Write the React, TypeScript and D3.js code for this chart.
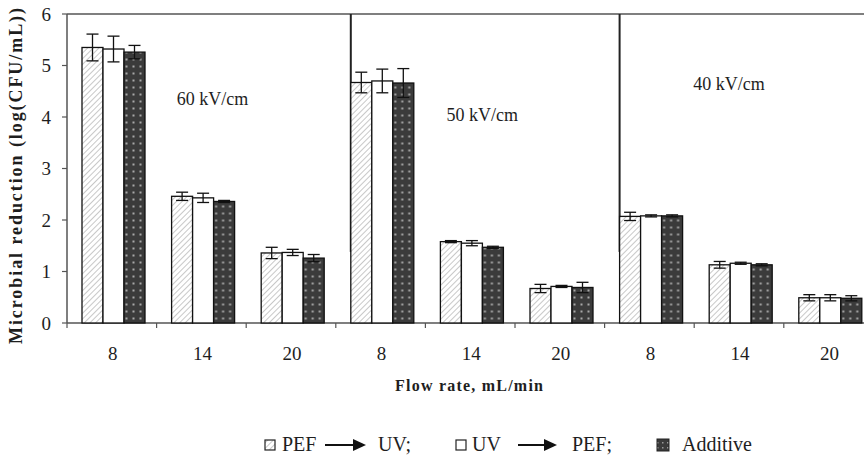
import React from 'react';
import * as d3 from 'd3';

// flow rates per group (three field strengths x three flow rates)
const flowRates = ['8', '14', '20', '8', '14', '20', '8', '14', '20'];
const fieldLabels = ['60 kV/cm', '50 kV/cm', '40 kV/cm'];
const fieldLabelGroup = [1, 4, 7];
const fieldLabelValue = [4.35, 4.05, 4.65];
const seriesNames = ['PEF→UV', 'UV→PEF', 'Additive'];

const pefUv = [5.35, 2.46, 1.36, 4.67, 1.58, 0.67, 2.07, 1.13, 0.49];
const pefUvErr = [0.26, 0.08, 0.11, 0.2, 0.02, 0.08, 0.08, 0.065, 0.06];
const uvPef = [5.32, 2.43, 1.37, 4.7, 1.55, 0.71, 2.08, 1.16, 0.49];
const uvPefErr = [0.25, 0.09, 0.06, 0.23, 0.05, 0.02, 0.02, 0.02, 0.06];
const additive = [5.26, 2.36, 1.26, 4.66, 1.47, 0.69, 2.08, 1.13, 0.48];
const additiveErr = [0.13, 0.02, 0.07, 0.28, 0.02, 0.1, 0.02, 0.02, 0.05];

const yTicks = [0, 1, 2, 3, 4, 5, 6];
// separators start at these groups and run down to this value
const separatorGroups = [3, 6];
const separatorBottom = 1.38;

const font = "'Liberation Serif'";
const ink = '#1e1e1e';

const App = () => {
  const width = 864;
  const height = 459;
  const left = 67;
  const top = 14;
  const bottom = 323;

  const x = d3.scaleBand<number>()
    .domain(d3.range(flowRates.length))
    .range([left, left + 9 * 89.6])
    .padding(0);

  const x1 = d3.scaleBand<number>()
    .domain([0, 1, 2])
    .range([15, 78])
    .padding(0);

  const y = d3.scaleLinear().domain([0, 6]).range([bottom, top]);

  const values = [pefUv, uvPef, additive];
  const errors = [pefUvErr, uvPefErr, additiveErr];
  const fills = ['url(#hatch)', '#ffffff', 'url(#dots)'];

  const bw = x1.bandwidth();
  const cap = 6;
  const txt = { fontFamily: font };

  return (
    <div style={{ position: 'absolute', left: 0, top: 0 }}>
      <svg width={width} height={height} style={{ display: 'block', background: '#fff', fontFamily: font }}>
        <defs>
          <pattern id="hatch" patternUnits="userSpaceOnUse" width="4" height="4" patternTransform="rotate(45)">
            <rect width="4" height="4" fill="#fff" />
            <line x1="0" y1="0" x2="0" y2="4" stroke="#9a9a9a" strokeWidth="1.1" />
          </pattern>
          <pattern id="dots" patternUnits="userSpaceOnUse" width="7" height="7">
            <rect width="7" height="7" fill="#3b3b3b" />
            <rect x="2.5" y="2.5" width="2" height="2" fill="#a8a8a8" />
          </pattern>
          <pattern id="dotsLegend" patternUnits="userSpaceOnUse" width="5" height="5">
            <rect width="5" height="5" fill="#3b3b3b" />
            <rect x="2" y="2" width="1.5" height="1.5" fill="#999" />
          </pattern>
        </defs>

        {/* plot frame */}
        <line x1={left} x2={width} y1={top} y2={top} stroke="#555" strokeWidth={1.5} />
        <line x1={left} x2={left} y1={top} y2={bottom} stroke="#555" strokeWidth={1.5} />
        <line x1={left} x2={width} y1={bottom} y2={bottom} stroke="#555" strokeWidth={1.5} />

        {/* y ticks */}
        {yTicks.map(t => (
          <g key={t}>
            <line x1={left - 5} x2={left} y1={y(t)} y2={y(t)} stroke="#555" strokeWidth={1.2} />
            <text x={left - 16} y={y(t)} dy="0.35em" textAnchor="end" style={txt}
              fontSize={19} fill={ink}>{t}</text>
          </g>
        ))}

        {/* x ticks at group boundaries */}
        {d3.range(flowRates.length + 1).map(i => (
          <line key={i} x1={left + i * x.step()} x2={left + i * x.step()} y1={bottom} y2={bottom + 5}
            stroke="#555" strokeWidth={1.2} />
        ))}
        {flowRates.map((f, i) => (
          <text key={i} x={(x(i) as number) + x.bandwidth() / 2 + 1} y={bottom + 37}
            textAnchor="middle" style={txt} fontSize={19} fill={ink}>{f}</text>
        ))}

        {/* separators between field strengths */}
        {separatorGroups.map(g => (
          <line key={g} x1={(x(g) as number) + (x1(0) as number)} x2={(x(g) as number) + (x1(0) as number)}
            y1={top} y2={y(separatorBottom)} stroke="#222" strokeWidth={2} />
        ))}

        {/* bars */}
        {flowRates.map((_, i) => (
          <g key={i} transform={`translate(${x(i)},0)`}>
            {values.map((s, k) => (
              <rect key={k} x={x1(k)} y={y(s[i])} width={bw} height={y(0) - y(s[i])}
                fill={fills[k]} stroke="#111" strokeWidth={1.3} />
            ))}
            {values.map((s, k) => {
              const cx = (x1(k) as number) + bw / 2;
              const hi = y(s[i] + errors[k][i]);
              const lo = y(s[i] - errors[k][i]);
              return (
                <g key={'e' + k} stroke="#111" strokeWidth={1.3}>
                  <line x1={cx} x2={cx} y1={hi} y2={lo} />
                  <line x1={cx - cap} x2={cx + cap} y1={hi} y2={hi} />
                  <line x1={cx - cap} x2={cx + cap} y1={lo} y2={lo} />
                </g>
              );
            })}
          </g>
        ))}

        {/* field strength labels */}
        {fieldLabels.map((l, i) => {
          const g = fieldLabelGroup[i];
          const off = [11, 12, -10][i];
          return (
            <text key={l} x={(x(g) as number) + x.bandwidth() / 2 + off} y={y(fieldLabelValue[i])}
              dy="0.35em" textAnchor="middle" style={txt} fontSize={18} fill={ink}>{l}</text>
          );
        })}

        {/* axis titles */}
        <text transform="translate(22,176) rotate(-90)" textAnchor="middle" style={txt}
          fontSize={18} fontWeight="bold" fill={ink} textLength={336} lengthAdjust="spacing">
          Microbial reduction (log(CFU/mL))
        </text>
        <text x={469} y={391} textAnchor="middle" style={txt} fontSize={16} fontWeight="bold"
          fill={ink} textLength={148} lengthAdjust="spacing">
          Flow rate, mL/min
        </text>

        {/* legend */}
        <g style={txt} fontSize={20} fill={ink}>
          <rect x={265} y={440} width={10} height={10} fill="url(#hatch)" stroke="#222" strokeWidth={1.2} />
          <text x={282} y={451}>PEF</text>
          <line x1={325} x2={355} y1={445} y2={445} stroke="#111" strokeWidth={2} />
          <path d="M353,439 L366,445 L353,451 Z" fill="#111" />
          <text x={378} y={451}>UV;</text>

          <rect x={456} y={440} width={10} height={10} fill="#fff" stroke="#222" strokeWidth={1.2} />
          <text x={472} y={451}>UV</text>
          <line x1={518} x2={546} y1={445} y2={445} stroke="#111" strokeWidth={2} />
          <path d="M544,439 L557,445 L544,451 Z" fill="#111" />
          <text x={572} y={451}>PEF;</text>

          <rect x={657} y={439} width={12} height={12} fill="url(#dotsLegend)" stroke="#222" strokeWidth={1} />
          <text x={682} y={451}>{seriesNames[2]}</text>
        </g>
      </svg>
    </div>
  );
};

export default App;
